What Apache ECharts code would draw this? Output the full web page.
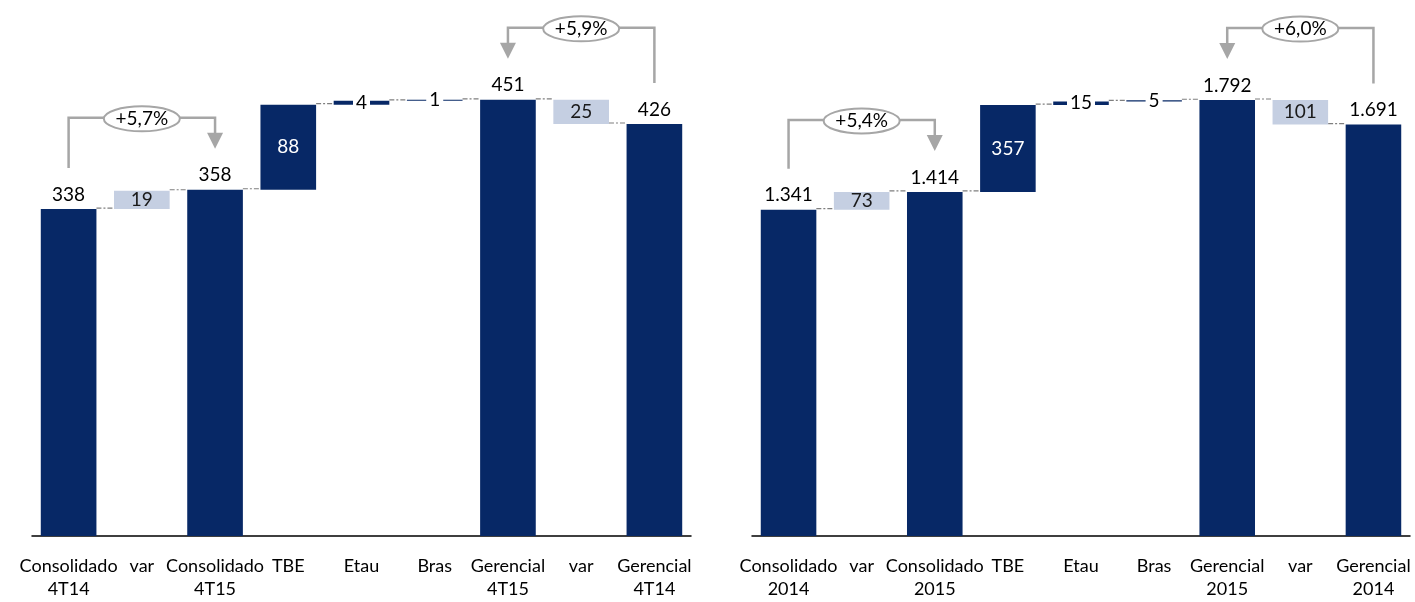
<!DOCTYPE html>
<html>
<head>
<meta charset="utf-8">
<script src="https://cdn.jsdelivr.net/npm/echarts@6/dist/echarts.min.js"></script>
<style>
  html, body { margin: 0; padding: 0; background: #fff; }
  #chart { width: 1415px; height: 602px; }
</style>
</head>
<body>
<div id="chart"></div>
<script>
// Categories of the two bridges (quarter and full year)
const categoriesQuarter = ['Consolidado\n4T14', 'var', 'Consolidado\n4T15', 'TBE', 'Etau', 'Bras', 'Gerencial\n4T15', 'var', 'Gerencial\n4T14'];
const categoriesYear = ['Consolidado\n2014', 'var', 'Consolidado\n2015', 'TBE', 'Etau', 'Bras', 'Gerencial\n2015', 'var', 'Gerencial\n2014'];

// Bar values
const valuesQuarter = [338, 19, 358, 88, 4, 1, 451, 25, 426];
const valuesYear = [1341, 73, 1414, 357, 15, 5, 1792, 101, 1691];

// Role of each bar in the bridge
const barKinds = ['total', 'rise', 'total', 'step', 'step', 'step', 'total', 'fall', 'total'];

// Growth brackets: from bar -> to bar, with the stated growth
const bracketFrom = [0, 8];
const bracketTo = [2, 6];
const growthQuarter = ['+5,7%', '+5,9%'];
const growthYear = ['+5,4%', '+6,0%'];

const NAVY = '#072866';
const LIGHT = '#c5cfe2';
const GREY = '#a6a6a6';
const FONT = 'Lato';
const BAR_RATIO = 0.76;

function fmt(v) {
  return String(v).replace(/\B(?=(\d{3})+(?!\d))/g, '.');
}

function buildWaterfall(values) {
  const base = [], levelAfter = [];
  let level = 0;
  values.forEach((v, i) => {
    const k = barKinds[i];
    if (k === 'total') { base.push(0); level = v; }
    else if (k === 'fall') { level -= v; base.push(level); }
    else { base.push(level); level += v; }
    levelAfter.push(level);
  });
  return { base, levelAfter };
}

function barSeries(values, idx) {
  const wf = buildWaterfall(values);
  const maxV = Math.max(...values);
  const stack = 'wf' + idx;
  const visible = values.map((v, i) => {
    const k = barKinds[i];
    const item = { value: v, itemStyle: { color: NAVY } };
    if (k === 'total') {
      item.label = { show: true, position: 'top', distance: 5, color: '#000' };
    } else if (k === 'rise' || k === 'fall') {
      item.itemStyle = { color: LIGHT };
      item.label = { show: true, position: 'inside', color: '#1a1a1a' };
    } else if (v / maxV > 0.05) {
      item.label = { show: true, position: 'inside', color: '#fff' };
    } else {
      item.label = { show: true, position: 'inside', color: '#000', backgroundColor: '#fff', padding: [0, 3] };
    }
    return item;
  });
  return [
    {
      type: 'bar', xAxisIndex: idx, yAxisIndex: idx, stack, silent: true,
      barWidth: (BAR_RATIO * 100) + '%',
      itemStyle: { color: 'transparent' },
      data: wf.base
    },
    {
      type: 'bar', xAxisIndex: idx, yAxisIndex: idx, stack,
      barWidth: (BAR_RATIO * 100) + '%',
      label: { fontFamily: FONT, fontSize: 19, formatter: p => fmt(p.value) },
      data: visible,
      z: 3
    },
    {
      type: 'custom', xAxisIndex: idx, yAxisIndex: idx, z: 2,
      encode: { x: 0, y: 1 },
      data: wf.levelAfter.slice(0, -1).map((l, i) => [i, l]),
      renderItem(params, api) {
        const i = api.value(0), lvl = api.value(1);
        const p1 = api.coord([i, lvl]);
        const p2 = api.coord([i + 1, lvl]);
        const half = api.size([1, 0])[0] * BAR_RATIO / 2;
        return {
          type: 'line',
          shape: { x1: p1[0] + half, y1: p1[1] - 1, x2: p2[0] - half, y2: p1[1] - 1 },
          style: { stroke: '#7f7f7f', lineWidth: 1.2, lineDash: [5, 2, 2, 2] }
        };
      }
    }
  ];
}

function xAxis(cats, idx) {
  return {
    type: 'category', gridIndex: idx, data: cats,
    axisTick: { show: false },
    axisLine: { lineStyle: { color: '#000', width: 1.5 } },
    axisLabel: { interval: 0, fontFamily: FONT, fontSize: 18, lineHeight: 23, margin: 19, color: '#000' }
  };
}

const chart = echarts.init(document.getElementById('chart'), null, { renderer: 'canvas' });
chart.setOption({
  animation: false,
  textStyle: { fontFamily: FONT },
  grid: [
    { left: 32, top: 36, width: 659, height: 500 },
    { left: 752, top: 36, width: 658, height: 500 }
  ],
  xAxis: [xAxis(categoriesQuarter, 0), xAxis(categoriesYear, 1)],
  yAxis: [
    { type: 'value', gridIndex: 0, min: 0, max: 517, show: false },
    { type: 'value', gridIndex: 1, min: 0, max: 2055, show: false }
  ],
  series: [...barSeries(valuesQuarter, 0), ...barSeries(valuesYear, 1)]
});

// Growth brackets drawn on top of the bars, positioned from the bar values
function brackets(idx, values, labels) {
  const els = [];
  const finder = { xAxisIndex: idx, yAxisIndex: idx };
  bracketFrom.forEach((a, k) => {
    const b = bracketTo[k];
    const pa = chart.convertToPixel(finder, [a, values[a]]);
    const pb = chart.convertToPixel(finder, [b, values[b]]);
    const yH = Math.min(pa[1], pb[1]) - 72;
    const yA = pa[1] - 41, yB = pb[1] - 41;
    els.push({
      type: 'polyline', z: 10,
      shape: { points: [[pa[0], yA], [pa[0], yH], [pb[0], yH], [pb[0], yB - 14]] },
      style: { stroke: GREY, lineWidth: 2.5, fill: null }
    });
    els.push({
      type: 'polygon', z: 10,
      shape: { points: [[pb[0] - 8, yB - 16], [pb[0] + 8, yB - 16], [pb[0], yB]] },
      style: { fill: GREY }
    });
    const cx = (pa[0] + pb[0]) / 2;
    els.push({
      type: 'ellipse', z: 11,
      shape: { cx: cx, cy: yH + 1, rx: 38, ry: 12.5 },
      style: { fill: '#fff', stroke: GREY, lineWidth: 2 }
    });
    els.push({
      type: 'text', z: 12, x: cx, y: yH + 1,
      style: {
        text: labels[k], fontFamily: FONT, fontSize: 19, fill: '#000',
        align: 'center', verticalAlign: 'middle'
      }
    });
  });
  return els;
}

chart.setOption({
  graphic: [...brackets(0, valuesQuarter, growthQuarter), ...brackets(1, valuesYear, growthYear)]
});
</script>
</body>
</html>
